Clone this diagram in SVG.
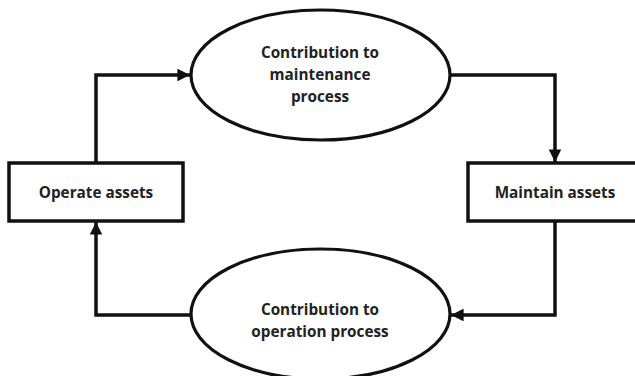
<svg xmlns="http://www.w3.org/2000/svg" width="635" height="376" viewBox="0 0 635 376">
  <defs>
    <marker id="arrow" viewBox="0 0 10 10" refX="10" refY="5" markerWidth="3.6" markerHeight="3.6" orient="auto" markerUnits="strokeWidth">
      <path d="M0,0 L10,5 L0,10 Z" fill="#111"/>
    </marker>
    <style>
      .shape { fill: #fff; stroke: #111; stroke-width: 3.5; }
      .oval { fill: #fff; stroke: #111; stroke-width: 3.2; }
      .label { font-family: "Open Sans", "Liberation Sans", sans-serif; font-weight: 700; font-size: 15.3px; fill: #222; text-anchor: middle; }
      .link { fill: none; stroke: #111; stroke-width: 3.5; marker-end: url(#arrow); }
    </style>
  </defs>
  <rect width="635" height="376" fill="#fff"/>

  <g id="connectors">
    <path class="link" d="M96,163 V75 H190"/>
    <path class="link" d="M451,75 H555 V162"/>
    <path class="link" d="M555,221 V315 H451"/>
    <path class="link" d="M191,315 H96 V222"/>
  </g>

  <g id="maintenance-contribution">
    <ellipse class="oval" cx="320.5" cy="75" rx="129.5" ry="65"/>
    <text class="label" x="320" y="58">Contribution to</text>
    <text class="label" x="320" y="80">maintenance</text>
    <text class="label" x="320" y="102">process</text>
  </g>

  <g id="maintain-assets">
    <rect class="shape" x="468" y="163" width="172" height="58"/>
    <text class="label" x="555" y="198">Maintain assets</text>
  </g>

  <g id="operation-contribution">
    <ellipse class="oval" cx="320.5" cy="314" rx="129.5" ry="65"/>
    <text class="label" x="320" y="315">Contribution to</text>
    <text class="label" x="320" y="337">operation process</text>
  </g>

  <g id="operate-assets">
    <rect class="shape" x="9" y="163" width="174" height="58"/>
    <text class="label" x="96" y="198">Operate assets</text>
  </g>
</svg>
